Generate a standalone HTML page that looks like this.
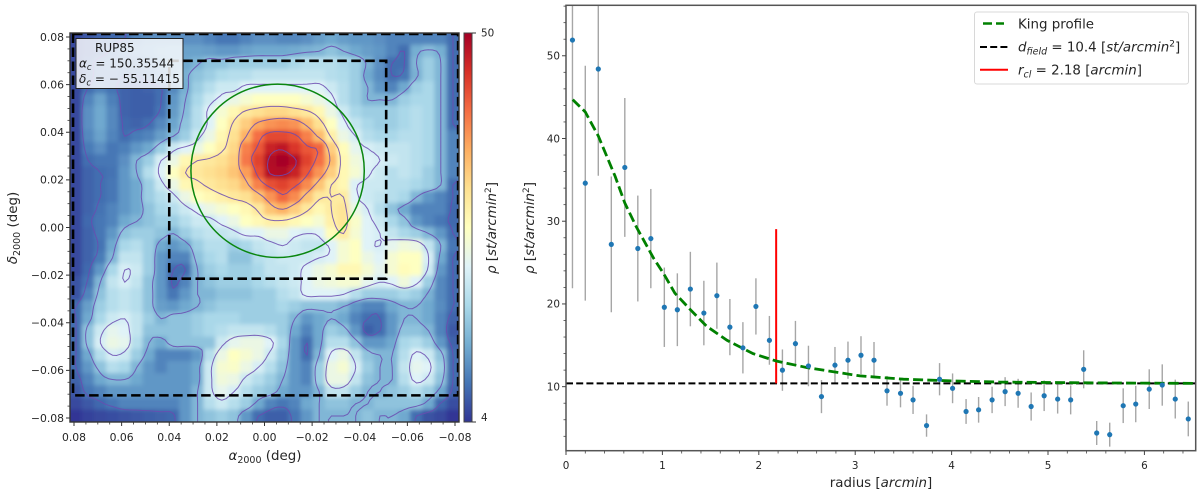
<!DOCTYPE html>
<html lang="en">
<head>
<meta charset="utf-8">
<title>RUP85 density map and radial profile</title>
<style>
html,body{margin:0;padding:0;background:#fff;}
svg{display:block;font-family:"DejaVu Sans","Liberation Sans",sans-serif;}
.tick{font-size:10.8px;fill:#262626;}
.tickr{font-size:10.4px;fill:#262626;}
.lab{font-size:13.4px;fill:#262626;}
.leg{font-size:13.4px;fill:#262626;}
.box{font-size:12px;fill:#1a1a1a;}
</style>
</head>
<body>
<svg id="fig" width="1200" height="495" viewBox="0 0 1200 495" xmlns="http://www.w3.org/2000/svg">
<defs>
<clipPath id="clipL"><rect x="70" y="33" width="389" height="389"/></clipPath>
<clipPath id="clipR"><rect x="566" y="5" width="630" height="446"/></clipPath>
<filter id="soft" x="-5%" y="-5%" width="110%" height="110%"><feGaussianBlur stdDeviation="2.2"/></filter>
<linearGradient id="cbGrad" x1="0" y1="1" x2="0" y2="0">
<stop offset="0" stop-color="#313695"/><stop offset=".1" stop-color="#4575b4"/><stop offset=".2" stop-color="#74add1"/><stop offset=".3" stop-color="#abd9e9"/><stop offset=".4" stop-color="#e0f3f8"/><stop offset=".5" stop-color="#ffffbf"/><stop offset=".6" stop-color="#fee090"/><stop offset=".7" stop-color="#fdae61"/><stop offset=".8" stop-color="#f46d43"/><stop offset=".9" stop-color="#d73027"/><stop offset="1" stop-color="#a50026"/>
</linearGradient>
</defs>

<g id="heat" clip-path="url(#clipL)"><g id="heatCells" filter="url(#soft)"></g></g>
<g id="contours" clip-path="url(#clipL)"></g>
<g id="overlays" clip-path="url(#clipL)"></g>

<g>
<rect x="76" y="38.5" width="107" height="50" fill="#fff" fill-opacity=".82" stroke="#222" stroke-width="1"/>
<text class="box" x="95" y="52">RUP85</text>
<text class="box" x="79" y="67.5"><tspan font-style="italic">α</tspan><tspan font-style="italic" font-size="8.5" dy="2.5">c</tspan><tspan dy="-2.5"> = 150.35544</tspan></text>
<text class="box" x="79" y="83"><tspan font-style="italic">δ</tspan><tspan font-style="italic" font-size="8.5" dy="2.5">c</tspan><tspan dy="-2.5"> = − 55.11415</tspan></text>
</g>

<rect x="70" y="33" width="389" height="389" fill="none" stroke="#333" stroke-width="1.4"/>
<g id="axL"></g>
<text class="lab" x="265" y="460" text-anchor="middle"><tspan font-style="italic">α</tspan><tspan font-size="9.5" dy="3">2000</tspan><tspan dy="-3"> (deg)</tspan></text>
<text class="lab" transform="translate(17,228) rotate(-90)" text-anchor="middle"><tspan font-style="italic">δ</tspan><tspan font-size="9.5" dy="3">2000</tspan><tspan dy="-3"> (deg)</tspan></text>

<g>
<rect x="464" y="33" width="8" height="389" fill="url(#cbGrad)" stroke="#444" stroke-width="1"/>
<line x1="472" y1="33" x2="476" y2="33" stroke="#333"/>
<line x1="472" y1="422" x2="476" y2="422" stroke="#333"/>
<text class="tickr" x="481" y="36.5">50</text>
<text class="tickr" x="481" y="421">4</text>
<text class="lab" transform="translate(496,228) rotate(-90)" text-anchor="middle"><tspan font-style="italic">ρ</tspan> [<tspan font-style="italic">st/arcmin</tspan><tspan font-size="9" dy="-5">2</tspan><tspan dy="5">]</tspan></text>
</g>

<g id="prof" clip-path="url(#clipR)"></g>
<rect x="566" y="5.3" width="629.7" height="445.4" fill="none" stroke="#555" stroke-width="1.5"/>
<g id="axR"></g>
<text class="lab" x="881" y="487" text-anchor="middle">radius [<tspan font-style="italic">arcmin</tspan>]</text>
<text class="lab" transform="translate(534,228) rotate(-90)" text-anchor="middle"><tspan font-style="italic">ρ</tspan> [<tspan font-style="italic">st/arcmin</tspan><tspan font-size="9" dy="-5">2</tspan><tspan dy="5">]</tspan></text>

<g>
<rect x="974.5" y="12" width="214" height="72" rx="2.5" fill="#fff" fill-opacity=".9" stroke="#d8d8d8" stroke-width="1"/>
<g>
<line x1="983" y1="23.5" x2="1004" y2="23.5" stroke="#008000" stroke-width="2.6" stroke-dasharray="9,4"/>
<text class="leg" x="1018" y="28.5">King profile</text>
</g>
<g>
<line x1="980" y1="47" x2="1008" y2="47" stroke="#000" stroke-width="2" stroke-dasharray="7,3.2"/>
<text class="leg" x="1018" y="51.5"><tspan font-style="italic">d</tspan><tspan font-style="italic" font-size="9.5" dy="3">field</tspan><tspan dy="-3"> = 10.4 [</tspan><tspan font-style="italic">st/arcmin</tspan><tspan font-size="9" dy="-5">2</tspan><tspan dy="5">]</tspan></text>
</g>
<g>
<line x1="980" y1="69.7" x2="1008" y2="69.7" stroke="#f00" stroke-width="2"/>
<text class="leg" x="1018" y="74.5"><tspan font-style="italic">r</tspan><tspan font-style="italic" font-size="9.5" dy="3">cl</tspan><tspan dy="-3"> = 2.18 [</tspan><tspan font-style="italic">arcmin</tspan>]</text>
</g>
</g>
</svg>

<script>
/* ---------- data: density map (rho values, row 0 = top) ---------- */
var densityGrid = [
[4.3,4.6,4.8,4.9,5,5.5,5.8,5.8,5.8,5.8,5.8,5.5,5.2,5.2,5.5,5.8,5.8,5.6,5.6,5.8,6.2,6.5,6.2,6,6,5.8,5.5,5.5,5.5,5.5,5.5,5],
[4.3,4.6,4.8,5.1,5.5,5.8,6,6.2,6.3,6.3,6.3,6.2,6,6,6.3,6.5,6.5,6.5,6.6,6.8,7,7.5,7,6.5,6.2,6,5.5,5,6.7,7.2,6.7,5],
[4.3,4.8,5.2,5.3,5.3,5.3,5.5,6,6.2,6.5,6.9,7.5,7.5,8,8,8,8,8,8.5,9,9,9,8.5,8,6.8,5.8,5,5,7,8,7,5],
[4.3,4.8,5.2,5.2,5,5,5.3,5.7,6,6.8,7.5,8,8.7,9,9,9.5,9.5,9.5,9.5,9.5,9.5,9,8.7,8,6.5,5.7,5,5.2,6.8,8,7,5],
[4.3,5,5.4,5.1,4.8,4.7,4.8,5,5.6,6.7,8,9,10,10,11,11,11,11,11,11,11,10,9,8,7,6,5.5,6.5,8,8.5,7,5],
[4.3,5.5,6.3,5.4,4.8,4.7,4.7,5,6,7,8.5,10,11,12,13,14,14,14,14,13,12,11,9,8,7,7,7,8,8.5,8.5,7,5],
[4.3,5.8,6.5,5.6,4.8,4.7,4.7,5.1,6.1,7.2,9,11,13,15,17,18,19,19,18,17,15,12,10,8.5,8,8,8,8.5,9,8.5,7,5],
[4.3,5.8,6.5,5.6,4.9,4.8,5,5.6,6.4,7.5,9,11,14,17,20,24,26,27,26,22,18,14,11,9.5,8.5,8,8,8.5,9,8.5,7,5],
[4.3,5.6,6.3,5.5,5,5.3,5.5,6.2,7,8,10,12,15,18,23,30,35,35,33,28,22,16,12,10.5,9,8.5,8.5,9,9,8.5,7,5.5],
[4.3,5.3,5.8,5.2,5.4,6,6.5,8,10,11,12,14,16,19,28,33,42,44,38,33,31,20,14.5,11.5,10.5,10,9.5,9.5,9,8.5,7,5.5],
[4.3,5,5.2,5.2,5.8,7,8,10.5,12,15,16.5,17,18,20,29,36,47,50,46,36,30,22,15,12.5,11,10.5,10,9.5,9,8.5,7,5.5],
[4.3,4.8,5,5.1,6,7,9,11,14,16.5,17,18,19,21,25,34,46,47,42,33,26,20,15,13,10.8,10,9,9.5,9,8,7,5.5],
[4.3,4.8,5,5.2,6,6.5,8,10,12,15,16,17,18,19,22,28,34,36,33,27,21,16.5,15,10.8,10,10,9,9,8.5,8,7,5],
[4.3,4.8,5,5.2,6,6.5,8,9,10,12,14,15,16,17,18,21,26,31,27,21,17,16.5,16.5,11,10,9.5,9,8.5,7,6,5.5,5],
[4.3,4.8,5.1,5.5,6,6.5,7.5,8.5,9,10,11,12,13,14,15,17,21,23,20,17,15,16.5,17.5,12,10.5,9,7.5,6.5,5.5,5.5,5.5,4.9],
[4.3,4.9,5.2,5.5,6.5,7,7.5,8,8,9,10,10,11,12,14,15,16,16,15,14,13,16,17.5,13.5,11,10,8.5,7.5,6,5.5,5.2,4.9],
[4.3,4.8,5.2,6,7.5,8,8,7.5,7,8,9,9.5,9.5,10,11,11,12,12,11,10.5,11,14.5,16.5,13,11,10.5,9.5,8.5,8,7,6,5],
[4.3,4.8,5.1,6.5,8.5,9,8,6.5,6,6.5,8,9,9,8,8.5,9.5,10,10.5,10,9.5,9.5,11,13,14,11,10.5,11.5,12.5,12,9.5,7,5.2],
[4.3,4.8,5.3,7,9.5,9.5,8,6,5.5,5.5,7.5,8.5,9,7.5,7.5,9,9.5,10,10,10,10.5,11,13,14,12,11,13,14,14,10.5,6.5,5],
[4.3,4.9,6,8.5,10.5,10,8,6,5,5,7,8,8.5,8,8,8.5,9.5,9.5,10,11,12,13,15,15,13,11.5,13,14.5,14,10,6,5],
[4.5,5.1,7,9.5,10.5,9.5,7.5,6,4.9,5.5,7,7.5,8,8,8,8.5,9,9.5,10,11,12,12.5,13,13,11.5,10.5,11,12.5,11,8,5.6,5],
[4.5,5.5,7.5,9,9.5,9,7.5,6,5.2,6,7,7,7.5,7.5,7.5,8,8,9,9.5,11,11,11,10.5,9,8,8,8,8.5,8,6.8,5.6,5],
[5,6.2,8,9,9.5,9,7.5,6.2,6,6.5,7,7.5,8,8,8,8,8,8.5,8,7.5,7.5,7.5,7,6,5.5,5.5,6.5,7,7,6.5,5.7,5],
[5,6.5,8.5,10,10.5,9.5,8,7,7.5,7.5,8,8.5,8.5,8.5,8,8,8,8,7,6,6.5,7,6.5,5.5,5,5,6,7,7,6.5,5.5,4.8],
[5,7.5,10,11.5,11,9.5,7.5,7.5,7.5,7.5,8,8.5,9,9.5,9.5,9.5,9,8,6.5,5.5,6.5,8,7.5,6,4.7,5,6,7.5,7.5,7,5.5,4.6],
[5,7.5,10.5,12,11.5,9,7,6.5,7.5,7.5,7.5,7.5,10,11.5,12,12,11,8.5,6,5,6.5,9,9,7.5,6,6,6.5,8.5,9,8,6,4.8],
[5,6.5,9,10.5,10,8,6.5,5.5,5.5,5.5,6,9,12,14,13,12,10,8,6,5,7,11,12,9.5,7.5,7,7,9,11,10,7.5,5],
[5,6,7.5,9,8.5,7,6,5.5,6,6,6.5,10,13,13.5,12,10.5,9,7.5,6,5.5,8,12,13,10.5,8,7,7,9.5,11.5,11,8,5],
[4.8,5.5,6.5,7,7,6.5,6,6,6,6,6.5,10,12.5,12,10,9,8,7,6,5.5,8,12,12,9.5,7.5,7,7,9,11,10,7.5,5],
[4.6,5.2,5.5,6,6,6,6,6,6,6,7,10,11.5,10.5,9,8,7.5,6.5,6,6,7,9.5,9.5,8,7,7,7.5,8,9,8,6.5,4.8],
[4.3,4.6,4.9,5.2,5.5,5.5,5.5,5.5,5.5,6,7,9,10,9,8,6.5,5.5,5.2,5.5,6.5,7,7.5,7.5,7,7,7.5,7.5,7.5,7.5,6.5,4.9,4.4],
[4,4.2,4.3,4.4,4.5,4.6,4.7,4.8,4.9,6,7,7.5,8,7.5,6,5,4.7,4.7,5.2,6,7,7,7,7,7.5,7,7,6.5,5,4.5,4.3,4]
];
var contourLevels = [5, 7, 10.5, 16.5, 23, 32, 45];
var colorMin = 4;
var colorMax = 50;
var colormapStops = ["#313695","#4575b4","#74add1","#abd9e9","#e0f3f8","#ffffbf","#fee090","#fdae61","#f46d43","#d73027","#a50026"];
var mapTickValues = [0.08,0.06,0.04,0.02,0,-0.02,-0.04,-0.06,-0.08];
var mapTickLabels = ["0.08","0.06","0.04","0.02","0.00","−0.02","−0.04","−0.06","−0.08"];
var mapExtent = 0.0817;
var clusterCenterAlpha = -0.0055;
var clusterCenterDelta = 0.0238;
var clusterRadiusDeg = 0.0364;
var fieldAlpha = [0.0804, -0.0813];
var fieldDelta = [0.0813, -0.0705];
var zoomAlpha = [0.04, -0.0511];
var zoomDelta = [0.07, -0.0215];

/* ---------- data: radial profile ---------- */
var radius = [0.067,0.2,0.335,0.47,0.61,0.745,0.88,1.02,1.155,1.29,1.43,1.565,1.7,1.835,1.97,2.11,2.245,2.38,2.515,2.65,2.79,2.925,3.06,3.195,3.33,3.47,3.6,3.74,3.875,4.01,4.15,4.28,4.42,4.555,4.69,4.825,4.96,5.1,5.235,5.37,5.505,5.64,5.78,5.91,6.05,6.185,6.32,6.455];
var rho = [51.9,34.6,48.4,27.2,36.5,26.7,27.9,19.6,19.3,21.8,18.9,21,17.2,14.7,19.7,15.6,12,15.2,12.5,8.8,12.6,13.2,13.8,13.2,9.5,9.2,8.4,5.3,10.9,9.8,7,7.2,8.4,9.4,9.2,7.6,8.9,8.5,8.4,12.1,4.4,4.2,7.7,7.9,9.7,10.2,8.5,6.1];
var rhoError = [30,14.2,12.9,8.2,8.4,6.4,6,4.8,4.4,4.5,3.9,4,3.4,3.1,3.4,2.95,2.5,2.75,2.45,2,2.2,2.25,2.3,2.2,1.8,1.7,1.7,1.35,1.95,1.8,1.5,1.55,1.6,1.75,1.75,1.7,1.85,1.75,1.75,2.3,1.45,1.45,2.1,2.2,2.4,2.5,2.35,2.1];
var kingRadius = [0.07,0.2,0.335,0.51,0.61,0.73,0.91,1.01,1.13,1.29,1.46,1.67,1.94,2.18,2.5,3.05,3.5,4,4.5,5,5.5,6.53];
var kingRho = [44.7,43.2,40.3,35.4,32.2,29.3,25.5,23.7,21.3,19.3,17.3,15.6,14,13.1,12.3,11.3,10.9,10.7,10.55,10.5,10.45,10.4];
var fieldDensity = 10.4;
var coreRadius = 2.18;
var coreTop = 29.05;
var profileXTicks = [0,1,2,3,4,5,6];
var profileYTicks = [10,20,30,40,50];
var profileXLimit = [0, 6.532];
var profileYLimit = [2.26, 56.1];

/* ---------- helpers and scales ---------- */
var NS = "http://www.w3.org/2000/svg";
function mk(tag, attrs, parent) {
  var el = document.createElementNS(NS, tag);
  for (var k in attrs) { el.setAttribute(k, attrs[k]); }
  parent.appendChild(el);
  return el;
}
function lx(a) { return 74 + (0.08 - a) / 0.16 * 381; }
function ly(d) { return 37 + (0.08 - d) / 0.16 * 381; }
function px(r) { return 566 + (r - profileXLimit[0]) / (profileXLimit[1] - profileXLimit[0]) * 629.7; }
function py(v) { return 450.7 - (v - profileYLimit[0]) / (profileYLimit[1] - profileYLimit[0]) * 445.4; }
function hex(c) { return [parseInt(c.substr(1,2),16), parseInt(c.substr(3,2),16), parseInt(c.substr(5,2),16)]; }
function colorFor(v) {
  var t = Math.log(v / colorMin) / Math.log(colorMax / colorMin);
  t = Math.max(0, Math.min(1, t)) * (colormapStops.length - 1);
  var i = Math.min(Math.floor(t), colormapStops.length - 2), f = t - i;
  var a = hex(colormapStops[i]), b = hex(colormapStops[i + 1]);
  return "rgb(" + Math.round(a[0] + (b[0] - a[0]) * f) + "," + Math.round(a[1] + (b[1] - a[1]) * f) + "," + Math.round(a[2] + (b[2] - a[2]) * f) + ")";
}

/* ---------- heatmap ---------- */
var nRows = densityGrid.length;
var nCols = densityGrid[0].length;
function gx(u) { return lx(mapExtent - u * 2 * mapExtent / nCols); }
function gy(v) { return ly(mapExtent - v * 2 * mapExtent / nRows); }
var heatCells = document.getElementById("heatCells");
densityGrid.forEach(function (row, j) {
  row.forEach(function (value, i) {
    var x0 = gx(i) - (i === 0 ? 12 : 0.3);
    var x1 = gx(i + 1) + (i === nCols - 1 ? 12 : 0.3);
    var y0 = gy(j) - (j === 0 ? 12 : 0.3);
    var y1 = gy(j + 1) + (j === nRows - 1 ? 12 : 0.3);
    var cell = mk("rect", {x: x0, y: y0, width: x1 - x0, height: y1 - y0, fill: colorFor(value)}, heatCells);
    
    
  });
});

/* ---------- contours: marching squares over a smoothed resampling of the grid ---------- */
function grid(i, j) {
  i = Math.max(0, Math.min(nCols - 1, i));
  j = Math.max(0, Math.min(nRows - 1, j));
  return densityGrid[j][i];
}
function cr(p0, p1, p2, p3, t) {
  return 0.5 * (2 * p1 + (p2 - p0) * t + (2 * p0 - 5 * p1 + 4 * p2 - p3) * t * t + (3 * p1 - p0 - 3 * p2 + p3) * t * t * t);
}
function sampleGrid(u, v) {
  var i = Math.floor(u), j = Math.floor(v), fx = u - i, fy = v - j, col = [];
  for (var b = -1; b <= 2; b++) {
    col.push(cr(grid(i - 1, j + b), grid(i, j + b), grid(i + 1, j + b), grid(i + 2, j + b), fx));
  }
  return cr(col[0], col[1], col[2], col[3], fy);
}
var sub = 3;
var field = [];
var nu = (nCols + 1) * sub + 1;
var nv = (nRows + 1) * sub + 1;
for (var jj = 0; jj < nv; jj++) {
  var line = [];
  for (var ii = 0; ii < nu; ii++) { line.push(sampleGrid(ii / sub - 1, jj / sub - 1)); }
  field.push(line);
}
function fu(i) { return gx(i / sub - 0.5); }
function fv(j) { return gy(j / sub - 0.5); }
var contoursG = document.getElementById("contours");
contourLevels.forEach(function (level) {
  var d = "";
  function cross(a, b) { return (level - a) / (b - a); }
  for (var j = 0; j < nv - 1; j++) {
    for (var i = 0; i < nu - 1; i++) {
      var a = field[j][i], b = field[j][i + 1], c = field[j + 1][i + 1], e = field[j + 1][i];
      var pts = [];
      if ((a < level) !== (b < level)) { pts.push([fu(i + cross(a, b)), fv(j)]); }
      if ((b < level) !== (c < level)) { pts.push([fu(i + 1), fv(j + cross(b, c))]); }
      if ((e < level) !== (c < level)) { pts.push([fu(i + cross(e, c)), fv(j + 1)]); }
      if ((a < level) !== (e < level)) { pts.push([fu(i), fv(j + cross(a, e))]); }
      for (var p = 0; p + 1 < pts.length; p += 2) {
        d += "M" + pts[p][0].toFixed(1) + " " + pts[p][1].toFixed(1) + "L" + pts[p + 1][0].toFixed(1) + " " + pts[p + 1][1].toFixed(1);
      }
    }
  }
  var path = mk("path", {d: d, fill: "none", stroke: "#6b4bb0", "stroke-width": 1, "stroke-opacity": 0.85, "stroke-linecap": "round"}, contoursG);
  
  
});

/* ---------- overlays ---------- */
var overlays = document.getElementById("overlays");
var fieldRect = mk("rect", {x: lx(fieldAlpha[0]), y: ly(fieldDelta[0]), width: lx(fieldAlpha[1]) - lx(fieldAlpha[0]), height: ly(fieldDelta[1]) - ly(fieldDelta[0]), fill: "none", stroke: "#000", "stroke-width": 2.6, "stroke-dasharray": "9.5,4.5"}, overlays);


var zoomRect = mk("rect", {x: lx(zoomAlpha[0]), y: ly(zoomDelta[0]), width: lx(zoomAlpha[1]) - lx(zoomAlpha[0]), height: ly(zoomDelta[1]) - ly(zoomDelta[0]), fill: "none", stroke: "#000", "stroke-width": 2.6, "stroke-dasharray": "9.5,4.5"}, overlays);


var circle = mk("circle", {cx: lx(clusterCenterAlpha), cy: ly(clusterCenterDelta), r: lx(clusterCenterAlpha - clusterRadiusDeg) - lx(clusterCenterAlpha), fill: "none", stroke: "#0a860f", "stroke-width": 1.5}, overlays);



/* ---------- map axes ---------- */
var axL = document.getElementById("axL");
mapTickValues.forEach(function (value, i) {
  var t1 = mk("line", {x1: lx(value), y1: 422, x2: lx(value), y2: 426, stroke: "#333", "stroke-width": 1}, axL);
  
  
  var l1 = mk("text", {x: lx(value), y: 441, "text-anchor": "middle", "class": "tick"}, axL);
  l1.textContent = mapTickLabels[i];
  
  
  var t2 = mk("line", {x1: 66, y1: ly(value), x2: 70, y2: ly(value), stroke: "#333", "stroke-width": 1}, axL);
  
  
  var l2 = mk("text", {x: 64, y: ly(value) + 3.8, "text-anchor": "end", "class": "tick"}, axL);
  l2.textContent = mapTickLabels[i];
  
  
});
for (var m = -16; m <= 16; m++) {
  if (m % 4 === 0) { continue; }
  var mv = m * 0.005;
  var mt1 = mk("line", {x1: lx(mv), y1: 422, x2: lx(mv), y2: 424.5, stroke: "#333", "stroke-width": 0.8}, axL);
  
  
  var mt2 = mk("line", {x1: 67.5, y1: ly(mv), x2: 70, y2: ly(mv), stroke: "#333", "stroke-width": 0.8}, axL);
  
  
}

/* ---------- profile plot ---------- */
var prof = document.getElementById("prof");
radius.forEach(function (r, i) {
  var bar = mk("line", {x1: px(r), y1: py(rho[i] - rhoError[i]), x2: px(r), y2: py(rho[i] + rhoError[i]), stroke: "#a6a6a6", "stroke-width": 1.4}, prof);
  
  
});
var fieldLine = mk("line", {x1: px(0), y1: py(fieldDensity), x2: px(profileXLimit[1]), y2: py(fieldDensity), stroke: "#000", "stroke-width": 2, "stroke-dasharray": "7,3.2"}, prof);


var coreLine = mk("line", {x1: px(coreRadius), y1: py(fieldDensity), x2: px(coreRadius), y2: py(coreTop), stroke: "#f00", "stroke-width": 2}, prof);


var kingPts = kingRadius.map(function (r, i) { return px(r).toFixed(1) + "," + py(kingRho[i]).toFixed(1); }).join(" ");
var king = mk("polyline", {points: kingPts, fill: "none", stroke: "#008000", "stroke-width": 2.8, "stroke-dasharray": "10,4.2"}, prof);


radius.forEach(function (r, i) {
  var dot = mk("circle", {cx: px(r), cy: py(rho[i]), r: 2.6, fill: "#1f77b4"}, prof);
  
  
});

/* ---------- profile axes ---------- */
var axR = document.getElementById("axR");
profileXTicks.forEach(function (value) {
  var t = mk("line", {x1: px(value), y1: 451, x2: px(value), y2: 455, stroke: "#444", "stroke-width": 1}, axR);
  
  
  var l = mk("text", {x: px(value), y: 469, "text-anchor": "middle", "class": "tickr"}, axR);
  l.textContent = String(value);
  
  
});
profileYTicks.forEach(function (value) {
  var t = mk("line", {x1: 562, y1: py(value), x2: 566, y2: py(value), stroke: "#444", "stroke-width": 1}, axR);
  
  
  var l = mk("text", {x: 560, y: py(value) + 3.8, "text-anchor": "end", "class": "tickr"}, axR);
  l.textContent = String(value);
  
  
});
for (var mx = 1; mx <= 32; mx++) {
  if (mx % 5 === 0) { continue; }
  var xm = mk("line", {x1: px(mx * 0.2), y1: 451, x2: px(mx * 0.2), y2: 453.5, stroke: "#444", "stroke-width": 0.8}, axR);
  
  
}
for (var my = 2; my <= 28; my++) {
  if (my % 5 === 0) { continue; }
  var ym = mk("line", {x1: 563.5, y1: py(my * 2), x2: 566, y2: py(my * 2), stroke: "#444", "stroke-width": 0.8}, axR);
  
  
}
</script>
</body>
</html>
